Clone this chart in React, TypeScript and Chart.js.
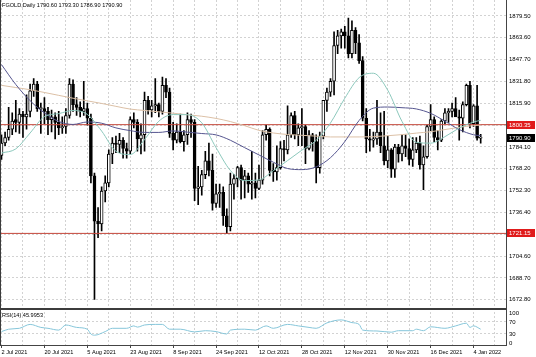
import React, { useEffect, useRef } from "react";
import { Chart, registerables } from "chart.js";

Chart.register(...registerables);

const symbolTitle = "FGOLD,Daily";

const opens = [
  1778, 1787, 1791, 1797, 1804, 1802, 1808, 1806, 1810, 1825, 1830, 1812, 1812, 1810, 1804, 1806, 1802, 1798, 1799, 1807,
  1830, 1815, 1813, 1810, 1812, 1805, 1763, 1730, 1728, 1752, 1758, 1779, 1787, 1786, 1789, 1783, 1781, 1804, 1802, 1790,
  1793, 1818, 1811, 1814, 1815, 1810, 1829, 1824, 1794, 1789, 1795, 1788, 1793, 1804, 1802, 1754, 1755, 1764, 1774, 1767,
  1743, 1750, 1751, 1734, 1726, 1757, 1761, 1769, 1760, 1763, 1757, 1758, 1754, 1760, 1793, 1797, 1767, 1766, 1769, 1783,
  1782, 1793, 1807, 1793, 1798, 1799, 1783, 1793, 1788, 1769, 1792, 1818, 1824, 1832, 1858, 1865, 1868, 1865, 1852, 1869,
  1860, 1847, 1805, 1790, 1789, 1790, 1795, 1785, 1774, 1782, 1768, 1784, 1779, 1785, 1783, 1775, 1782, 1787, 1771, 1777,
  1799, 1804, 1791, 1789, 1803, 1809, 1810, 1812, 1806, 1805, 1815, 1829, 1801, 1814, 1790.6,
];
const highs = [
  1793, 1795, 1813, 1809, 1818, 1812, 1810, 1822, 1830, 1834, 1832, 1816, 1820, 1813, 1811, 1809, 1810, 1806, 1812, 1834,
  1833, 1820, 1817, 1832, 1816, 1808, 1765, 1740, 1755, 1763, 1782, 1791, 1792, 1794, 1791, 1787, 1806, 1809, 1804, 1801,
  1824, 1821, 1818, 1834, 1816, 1835, 1834, 1827, 1802, 1801, 1808, 1796, 1809, 1808, 1804, 1770, 1767, 1781, 1787, 1779,
  1757, 1757, 1755, 1739, 1765, 1764, 1770, 1771, 1767, 1765, 1781, 1765, 1771, 1796, 1800, 1798, 1772, 1785, 1788, 1789,
  1814, 1809, 1810, 1801, 1812, 1800, 1796, 1794, 1793, 1795, 1818, 1827, 1834, 1868, 1869, 1870, 1872, 1878, 1876, 1871,
  1866, 1850, 1812, 1797, 1795, 1818, 1809, 1810, 1792, 1783, 1786, 1786, 1793, 1793, 1790, 1791, 1791, 1792, 1785, 1800,
  1815, 1806, 1796, 1804, 1812, 1812, 1816, 1820, 1811, 1817, 1830, 1832, 1815, 1829, 1793.3,
];
const lows = [
  1775, 1785, 1789, 1793, 1795, 1794, 1791, 1797, 1806, 1821, 1810, 1794, 1801, 1793, 1795, 1790, 1793, 1794, 1794, 1805,
  1810, 1807, 1806, 1807, 1800, 1758, 1673, 1718, 1723, 1744, 1755, 1772, 1780, 1780, 1776, 1776, 1779, 1798, 1781, 1779,
  1781, 1808, 1806, 1809, 1806, 1808, 1820, 1791, 1782, 1787, 1787, 1781, 1786, 1791, 1745, 1742, 1749, 1761, 1763, 1738,
  1740, 1740, 1727, 1721, 1723, 1746, 1755, 1746, 1747, 1751, 1746, 1747, 1753, 1757, 1789, 1763, 1759, 1760, 1768, 1774,
  1779, 1791, 1790, 1785, 1785, 1772, 1782, 1781, 1758, 1765, 1790, 1810, 1821, 1822, 1852, 1856, 1856, 1849, 1849, 1852,
  1845, 1803, 1780, 1781, 1784, 1786, 1780, 1771, 1769, 1762, 1762, 1773, 1774, 1777, 1771, 1770, 1780, 1768, 1753, 1776,
  1796, 1788, 1782, 1788, 1801, 1802, 1806, 1808, 1789, 1795, 1814, 1798, 1799, 1789, 1786.9,
];
const closes = [
  1787, 1791, 1797, 1803, 1802, 1808, 1806, 1808, 1825, 1830, 1812, 1812, 1810, 1804, 1806, 1802, 1798, 1799, 1807, 1830,
  1815, 1813, 1810, 1812, 1805, 1763, 1730, 1728, 1752, 1758, 1779, 1787, 1786, 1789, 1783, 1781, 1804, 1802, 1790, 1793,
  1818, 1811, 1814, 1815, 1810, 1829, 1824, 1794, 1789, 1795, 1788, 1793, 1804, 1802, 1754, 1755, 1764, 1774, 1767, 1743,
  1750, 1751, 1734, 1726, 1757, 1761, 1769, 1760, 1763, 1757, 1758, 1754, 1760, 1793, 1797, 1767, 1766, 1769, 1783, 1782,
  1793, 1807, 1793, 1798, 1799, 1783, 1793, 1788, 1769, 1792, 1818, 1824, 1832, 1858, 1865, 1868, 1865, 1852, 1869, 1860,
  1847, 1805, 1790, 1789, 1790, 1795, 1785, 1774, 1782, 1768, 1784, 1779, 1785, 1783, 1775, 1782, 1787, 1771, 1777, 1799,
  1804, 1791, 1789, 1803, 1809, 1810, 1812, 1806, 1805, 1815, 1829, 1801, 1814, 1790.6, 1790.9,
];

// moving averages read at sampled bars
const maIdx = [0, 4, 8, 12, 16, 20, 24, 28, 32, 36, 40, 44, 48, 52, 56, 60, 64, 68, 72, 76, 80, 84, 88, 92, 96, 100, 104, 108, 112, 116, 120, 124, 128, 132, 134];
const maFast = [1779.7, 1782.7, 1794.3, 1806.2, 1808.4, 1810.7, 1807.8, 1795.7, 1781.0, 1778.6, 1789.5, 1802.9, 1807.7, 1807.6, 1801.7, 1783.6, 1767.0, 1759.6, 1760.1, 1766.8, 1774.2, 1781.8, 1788.9, 1801.6, 1819.6, 1834.6, 1837.8, 1825.5, 1802.7, 1787.5, 1786.9, 1791.6, 1797.9, 1802.3, 1803.5];
const maMid = [1844.1, 1829.6, 1817.8, 1808.9, 1802.7, 1800.5, 1802.3, 1801.4, 1798.0, 1796.0, 1794.7, 1794.7, 1795.8, 1794.9, 1793.9, 1792.9, 1789.0, 1783.6, 1778.3, 1773.0, 1768.4, 1767.6, 1769.6, 1776.3, 1788.0, 1803.4, 1812.4, 1813.2, 1812.7, 1811.8, 1808.6, 1802.9, 1796.8, 1793.0, 1792.3];
const maSlow = [1829.0, 1827.4, 1825.8, 1823.8, 1821.7, 1819.6, 1817.7, 1815.8, 1813.7, 1811.7, 1810.7, 1809.7, 1808.7, 1807.6, 1806.5, 1804.9, 1802.6, 1799.6, 1796.2, 1794.3, 1793.2, 1792.6, 1792.0, 1791.4, 1791.4, 1791.4, 1791.6, 1792.3, 1793.1, 1794.2, 1795.2, 1796.8, 1798.4, 1799.7, 1800.0];

// RSI(14) read at sampled bars
const rsiIdx = [0, 2, 5, 8, 11, 13, 16, 18, 21, 24, 25, 26, 29, 31, 35, 37, 38, 40, 43, 45, 47, 50, 54, 57, 60, 63, 64, 68, 71, 74, 76, 80, 83, 86, 88, 91, 95, 98, 100, 101, 105, 109, 111, 115, 116, 118, 120, 124, 127, 130, 131, 132, 134];
const rsiVal = [38, 46, 49, 62, 52, 49, 43, 60, 52, 46, 30, 26, 38, 49, 49, 57, 53, 60, 62, 62, 46, 46, 37, 41, 38, 30, 43, 46, 43, 57, 49, 62, 57, 52, 49, 67, 77, 68, 62, 43, 40, 36, 41, 41, 46, 41, 54, 49, 57, 66, 52, 57, 46];
const rsiLast = 45.9953;

const xTickIdx = [0, 12, 24, 36, 48, 60, 72, 84, 96, 108, 120, 132];
const xTickLabels = ["2 Jul 2021", "20 Jul 2021", "5 Aug 2021", "23 Aug 2021", "8 Sep 2021", "24 Sep 2021", "12 Oct 2021", "28 Oct 2021", "12 Nov 2021", "30 Nov 2021", "16 Dec 2021", "4 Jan 2022"];
const gridIdx = [0, 6, 12, 18, 24, 30, 36, 42, 48, 54, 60, 66, 72, 78, 84, 90, 96, 102, 108, 114, 120, 126, 132, 138];

const priceTicks = [1879.5, 1863.6, 1847.7, 1831.8, 1815.9, 1800.0, 1784.1, 1768.2, 1752.3, 1736.4, 1720.5, 1704.6, 1688.7, 1672.8];
const rsiTicks = [0, 30, 70, 100];
const rsiLevels = [30, 70];
const levelLines = [1800.35, 1721.15];

const FONT = "'Liberation Sans', Arial, sans-serif";

export default function App() {
  const canvasRef = useRef<HTMLCanvasElement | null>(null);

  useEffect(() => {
    const canvas = canvasRef.current;
    if (!canvas) return;
    const n = closes.length;
    const last = n - 1;
    const idx = Array.from({ length: n }, (_, i) => i);
    const X_MIN = -0.42;
    const X_MAX = 141.08;
    const Y_MAX = 1891.15;
    const Y_MIN = 1666.45;

    const overlay = {
      id: "overlay",
      afterDraw(chart: any) {
        const { ctx, chartArea: ca, scales } = chart;
        const ys = scales.y;
        const y2s = scales.y2;
        ctx.save();
        ctx.fillStyle = "#3c3c3c";
        ctx.fillRect(ca.left, Math.round(ys.bottom) - 1, ca.right - ca.left, 2);
        ctx.fillRect(0, 0, 1, ca.bottom);
        const tags = [
          { v: levelLines[0], bg: "#e01b1b" },
          { v: closes[last], bg: "#000000" },
          { v: levelLines[1], bg: "#e01b1b" },
        ];
        ctx.font = `6px ${FONT}`;
        ctx.textBaseline = "middle";
        ctx.textAlign = "left";
        for (const t of tags) {
          const py = Math.round(ys.getPixelForValue(t.v));
          ctx.fillStyle = t.bg;
          ctx.fillRect(ca.right + 1, py - 4, 28, 8);
          ctx.fillStyle = "#ffffff";
          ctx.fillText(t.v.toFixed(2), ca.right + 3, py + 0.5);
        }
        ctx.fillStyle = "#000000";
        ctx.font = `5.6px ${FONT}`;
        ctx.fillText(
          `${symbolTitle} ${opens[last].toFixed(2)} ${highs[last].toFixed(2)} ${lows[last].toFixed(2)} ${closes[last].toFixed(2)}`,
          2,
          5
        );
        ctx.fillText(`RSI(14) ${rsiLast.toFixed(4)}`, 2, y2s.top + 6.5);
        ctx.restore();
      },
    };

    const pts = (xs: number[], vs: number[]) => xs.map((x, k) => ({ x, y: vs[k] }));
    const lineBase = {
      type: "line",
      pointRadius: 0,
      borderWidth: 1,
      fill: false,
      cubicInterpolationMode: "monotone",
      xAxisID: "x",
    };

    const datasets: any[] = [
      {
        type: "bar",
        data: idx.map((i) => ({ x: i, y: [lows[i], highs[i]] })),
        backgroundColor: "#000000",
        borderWidth: 0,
        barThickness: 1,
        grouped: false,
        order: 10,
        xAxisID: "x",
        yAxisID: "y",
      },
      {
        type: "bar",
        data: idx.map((i) => ({ x: i, y: [opens[i], closes[i]] })),
        backgroundColor: idx.map((i) => (closes[i] >= opens[i] ? "#ffffff" : "#000000")),
        borderColor: "#000000",
        borderWidth: 1,
        borderSkipped: false,
        barThickness: 3,
        minBarLength: 1,
        grouped: false,
        order: 9,
        xAxisID: "x",
        yAxisID: "y",
      },
      ...levelLines.map((v) => ({
        ...lineBase,
        data: [
          { x: X_MIN, y: v },
          { x: X_MAX, y: v },
        ],
        borderColor: "#c4463a",
        yAxisID: "y",
        order: 4,
      })),
      { ...lineBase, data: pts(maIdx, maSlow), borderColor: "#dcc0a6", yAxisID: "y", order: 3 },
      { ...lineBase, data: pts(maIdx, maMid), borderColor: "#55558f", yAxisID: "y", order: 2 },
      { ...lineBase, data: pts(maIdx, maFast), borderColor: "#8cc8bc", yAxisID: "y", order: 1 },
      { ...lineBase, data: pts(rsiIdx, rsiVal), borderColor: "#86c6da", yAxisID: "y2", order: 1 },
    ];

    const chart = new Chart(canvas, {
      type: "bar",
      data: { datasets },
      options: {
        responsive: false,
        animation: false,
        devicePixelRatio: 1,
        layout: { padding: 0 },
        plugins: { legend: { display: false }, tooltip: { enabled: false } },
        scales: {
          x: {
            type: "linear",
            position: "bottom",
            min: X_MIN,
            max: X_MAX,
            offset: false,
            afterBuildTicks: (s: any) => {
              s.ticks = gridIdx.map((v) => ({ value: v }));
            },
            afterFit: (s: any) => {
              s.height = 12;
              s.paddingLeft = 0;
              s.paddingRight = 0;
            },
            grid: {
              offset: false,
              color: "#d2d2d2",
              lineWidth: 1,
              drawTicks: true,
              tickLength: 3,
              tickColor: (c: any) => (c.tick && xTickIdx.includes(c.tick.value) ? "#444444" : "rgba(0,0,0,0)"),
            },
            border: { display: true, color: "#444444", width: 1, dash: [2, 2] },
            ticks: {
              autoSkip: false,
              maxRotation: 0,
              minRotation: 0,
              align: "start",
              padding: 1,
              color: "#000000",
              font: { family: FONT, size: 5.6 },
              callback: (v: any) => {
                const k = xTickIdx.indexOf(Number(v));
                return k >= 0 ? xTickLabels[k] : "";
              },
            },
          },
          y: {
            type: "linear",
            position: "right",
            stack: "panes",
            stackWeight: 308.5,
            min: Y_MIN,
            max: Y_MAX,
            afterBuildTicks: (s: any) => {
              s.ticks = priceTicks.map((v) => ({ value: v }));
            },
            afterFit: (s: any) => {
              s.width = 30;
              s.paddingTop = 0;
              s.paddingBottom = 0;
            },
            grid: { color: "#d2d2d2", drawTicks: false },
            border: { display: true, color: "#444444", width: 1, dash: [2, 2] },
            ticks: {
              autoSkip: false,
              padding: 3,
              color: "#000000",
              font: { family: FONT, size: 6 },
              callback: (v: any) => Number(v).toFixed(2),
            },
          },
          y2: {
            type: "linear",
            position: "right",
            stack: "panes",
            stackWeight: 36.5,
            min: -6.67,
            max: 115,
            afterBuildTicks: (s: any) => {
              s.ticks = rsiTicks.map((v) => ({ value: v }));
            },
            afterFit: (s: any) => {
              s.width = 30;
              s.paddingTop = 0;
              s.paddingBottom = 0;
            },
            grid: {
              color: (c: any) => (c.tick && rsiLevels.includes(c.tick.value) ? "#d2d2d2" : "rgba(0,0,0,0)"),
              drawTicks: false,
            },
            border: { display: true, color: "#444444", width: 1, dash: [2, 2] },
            ticks: {
              autoSkip: false,
              padding: 3,
              color: "#000000",
              font: { family: FONT, size: 6 },
              callback: (v: any) => String(v),
            },
          },
        },
      } as any,
      plugins: [overlay],
    });

    return () => chart.destroy();
  }, []);

  return (
    <div style={{ position: "fixed", left: 0, top: 0, width: 536, height: 357, background: "#ffffff" }}>
      <canvas ref={canvasRef} width={536} height={357} style={{ display: "block" }} />
    </div>
  );
}
